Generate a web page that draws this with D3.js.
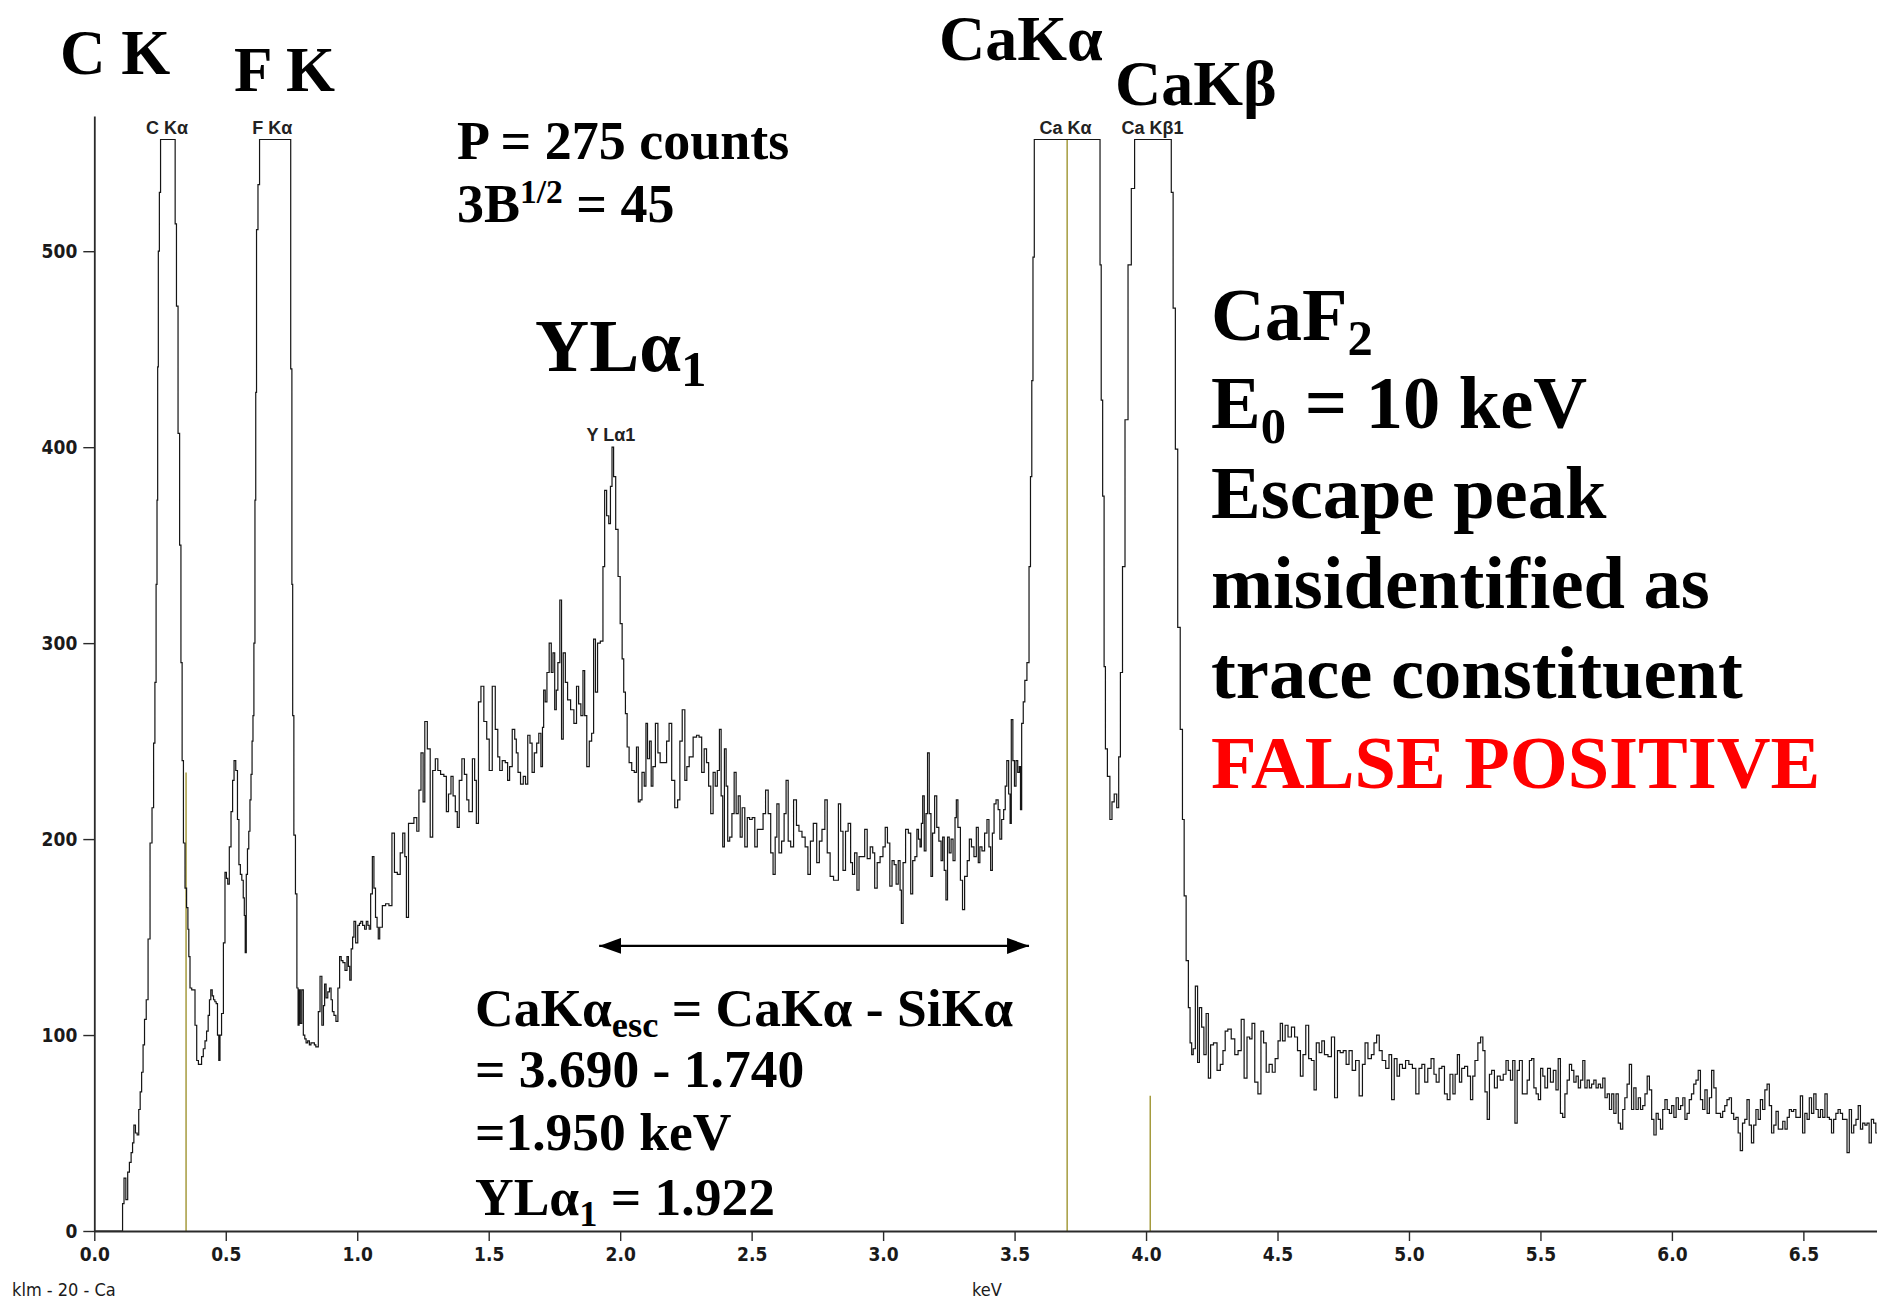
<!DOCTYPE html>
<html>
<head>
<meta charset="utf-8">
<script src="https://cdn.jsdelivr.net/npm/d3@7"></script>
<style>
  html, body { margin: 0; padding: 0; background: #ffffff; }
  svg { display: block; }
</style>
</head>
<body>
<svg id="chart" width="1877" height="1301"></svg>
<script>
// ---- Axis ticks ----
const xTickValues = [0, 0.5, 1, 1.5, 2, 2.5, 3, 3.5, 4, 4.5, 5, 5.5, 6, 6.5];
const yTickValues = [0, 100, 200, 300, 400, 500];

// ---- Peak identification labels (name, energy in keV) ----
const peakLabelNames = ["C Kα", "F Kα", "Y Lα1", "Ca Kα", "Ca Kβ1"];
const peakLabelKeV   = [0.277, 0.677, 1.965, 3.694, 4.025];

// ---- Line markers (KLM) : energy and relative height in counts ----
const markerKeV    = [0.349, 3.700, 4.016];
const markerCounts = [234, 557, 69];

// ---- Display full scale (peaks above it are clipped) ----
const fullScale = 557;

// ---- Spectrum: [keV, counts] ----
const spectrumLow = [
  [0.000,0],[0.105,0],[0.110,14],[0.116,27],[0.124,16],[0.130,30],[0.137,35],[0.143,40],[0.148,45],[0.153,54],
  [0.160,50],[0.166,49],[0.172,62],[0.177,71],[0.183,81],[0.188,95],[0.194,108],[0.201,118],[0.208,149],[0.216,198],
  [0.223,216],[0.228,249],[0.233,280],[0.237,330],[0.240,373],[0.242,441],[0.245,500],[0.250,530],[0.254,557],[0.305,557],
  [0.310,514],[0.315,472],[0.322,407],[0.327,350],[0.332,290],[0.336,240],[0.342,198],[0.348,175],[0.354,165],[0.358,154],
  [0.361,140],[0.367,124],[0.374,123],[0.380,123],[0.386,105],[0.393,87],[0.399,85],[0.405,85],[0.411,89],[0.418,93],
  [0.424,97],[0.430,102],[0.436,110],[0.440,118],[0.446,123],[0.451,120],[0.456,118],[0.461,117],[0.466,116],[0.471,100],
  [0.476,87],[0.480,100],[0.488,111],[0.494,147],[0.500,183],[0.505,180],[0.510,177],[0.517,196],[0.523,214],[0.529,230],
  [0.534,240],[0.542,235],[0.547,210],[0.553,187],[0.558,182],[0.564,179],[0.569,170],[0.572,161],[0.576,142],[0.580,182],
  [0.585,195],[0.590,204],[0.594,220],[0.598,233],[0.602,250],[0.605,263],[0.609,300],[0.613,373],[0.615,428],[0.619,511],
  [0.626,534],[0.631,557],[0.744,557],[0.750,440],[0.753,330],[0.756,263],[0.762,202],[0.768,172],[0.773,124],[0.777,105],
  [0.781,123],[0.786,106],[0.792,123],[0.798,100],[0.803,98],[0.808,96],[0.815,97],[0.821,95],[0.827,96],[0.834,96],
  [0.840,95],[0.845,94],[0.849,94],[0.855,112],[0.862,130],[0.869,105],[0.874,115],[0.878,126],[0.885,119],[0.891,122],
  [0.898,124],[0.903,118],[0.908,112],[0.915,110],[0.923,107],[0.930,124],[0.936,140],[0.942,138],[0.949,137],[0.958,133],
  [0.964,140],[0.969,135],[0.974,128],[0.980,144],[0.985,150],[0.990,158],[0.998,147],[1.006,156],[1.011,157],[1.016,158],
  [1.025,156],[1.031,154],[1.038,158],[1.043,156],[1.048,154],[1.054,172],[1.061,191],[1.066,175],[1.073,160],[1.078,155],
  [1.082,149]
];

const spectrumMid = [
  [1.089,155],[1.102,166],[1.114,167],[1.127,166],[1.137,203],[1.146,183],[1.159,182],[1.168,193],[1.178,203],[1.184,191],
  [1.190,160],[1.200,208],[1.209,208],[1.222,211],[1.231,204],[1.238,225],[1.247,244],[1.254,219],[1.260,260],[1.273,246],
  [1.282,201],[1.292,235],[1.302,241],[1.311,235],[1.323,233],[1.336,232],[1.342,214],[1.352,223],[1.361,232],[1.368,222],
  [1.378,214],[1.383,206],[1.393,230],[1.403,241],[1.412,233],[1.421,220],[1.428,214],[1.433,214],[1.443,241],[1.450,230],
  [1.456,208],[1.466,270],[1.475,278],[1.488,260],[1.497,251],[1.507,235],[1.520,278],[1.530,256],[1.539,242],[1.545,235],
  [1.558,240],[1.568,239],[1.576,230],[1.583,237],[1.596,256],[1.602,251],[1.608,244],[1.615,234],[1.627,228],[1.636,232],
  [1.644,228],[1.653,253],[1.661,249],[1.669,234],[1.678,244],[1.687,249],[1.694,254],[1.703,237],[1.706,257],[1.712,276],
  [1.718,270],[1.725,285],[1.735,300],[1.741,285],[1.748,295],[1.754,266],[1.760,276],[1.766,290],[1.775,322],[1.779,251],
  [1.788,295],[1.795,280],[1.805,271],[1.818,266],[1.830,259],[1.838,278],[1.846,269],[1.855,263],[1.862,286],[1.868,263],
  [1.878,237],[1.887,250],[1.896,254],[1.902,302],[1.910,275],[1.918,300],[1.931,301],[1.938,339],[1.944,378],[1.953,365],
  [1.960,361],[1.966,380],[1.972,400],[1.978,385],[1.988,358],[1.996,334]
];

const spectrumBackground = [
  [2.004,310],[2.011,292],[2.016,275],[2.024,264],[2.029,247],[2.039,239],[2.049,235],[2.058,234],[2.066,247],[2.072,219],
  [2.079,220],[2.087,234],[2.096,227],[2.100,259],[2.108,241],[2.115,250],[2.121,227],[2.128,237],[2.140,259],[2.147,244],
  [2.157,239],[2.172,239],[2.181,250],[2.191,259],[2.201,230],[2.214,216],[2.223,220],[2.231,250],[2.241,266],[2.251,230],
  [2.256,237],[2.269,242],[2.286,252],[2.295,253],[2.305,252],[2.315,234],[2.324,246],[2.333,239],[2.340,227],[2.349,213],
  [2.358,234],[2.365,227],[2.374,235],[2.381,256],[2.387,222],[2.393,196],[2.400,246],[2.406,227],[2.412,199],[2.421,201],
  [2.429,213],[2.438,234],[2.444,213],[2.454,222],[2.459,201],[2.469,216],[2.479,196],[2.488,211],[2.497,210],[2.507,211],
  [2.517,196],[2.526,205],[2.539,205],[2.548,213],[2.558,225],[2.568,213],[2.577,193],[2.586,182],[2.593,201],[2.599,218],
  [2.609,193],[2.619,199],[2.628,213],[2.634,230],[2.644,199],[2.653,196],[2.666,220],[2.675,207],[2.685,204],[2.698,201],
  [2.709,196],[2.719,182],[2.728,199],[2.741,208],[2.754,188],[2.761,199],[2.774,205],[2.783,220],[2.792,193],[2.805,181],
  [2.818,179],[2.826,179],[2.834,218],[2.843,204],[2.852,184],[2.862,204],[2.872,208],[2.881,188],[2.886,182],[2.897,193],
  [2.904,174],[2.913,191],[2.925,191],[2.935,205],[2.944,190],[2.958,196],[2.963,193],[2.973,175],[2.982,188],[2.995,191],
  [3.004,196],[3.012,206],[3.021,198],[3.030,176],[3.038,189],[3.046,187],[3.053,177],[3.062,189],[3.067,174],[3.072,157],
  [3.080,188],[3.091,205],[3.101,203],[3.109,172],[3.116,189],[3.126,191],[3.131,205],[3.138,200],[3.143,196],[3.148,208],
  [3.153,222],[3.160,194],[3.166,213],[3.172,244],[3.179,213],[3.185,181],[3.191,203],[3.201,222],[3.207,206],[3.217,199],
  [3.224,189],[3.229,201],[3.236,184],[3.242,169],[3.248,201],[3.255,193],[3.262,200],[3.270,189],[3.277,211],[3.280,220],
  [3.289,206],[3.299,179],[3.305,164],[3.315,181],[3.325,189],[3.331,200],[3.341,196],[3.350,191],[3.359,206],[3.365,188],
  [3.371,196],[3.381,194],[3.391,203],[3.399,210],[3.406,196],[3.412,184],[3.419,203],[3.425,218],[3.434,220],[3.441,215],
  [3.447,200],[3.455,210],[3.462,215],[3.467,227],[3.474,240],[3.481,223],[3.485,208],[3.490,261],[3.497,240],[3.502,227],
  [3.509,240],[3.515,234],[3.521,237],[3.524,215],[3.530,259]
];

const spectrumCa = [
  [3.536,270],[3.542,281],[3.552,290],[3.558,339],[3.563,385],[3.568,434],[3.572,497],[3.578,557],[3.823,557],[3.827,493],
  [3.832,424],[3.838,375],[3.843,288],[3.848,246],[3.858,232],[3.867,210],[3.874,219],[3.884,223],[3.893,216],[3.899,242],
  [3.906,285],[3.915,339],[3.925,414],[3.938,493],[3.950,532],[3.963,557],[4.093,557],[4.099,530],[4.107,471],[4.116,399],
  [4.125,308],[4.135,256],[4.142,210],[4.148,171],[4.157,138],[4.165,114],[4.170,96],[4.177,90],[4.182,93],[4.193,125],
  [4.199,86]
];

const spectrumTail = [
  [4.207,114],[4.216,104],[4.224,90],[4.233,111],[4.241,78],[4.250,95],[4.263,96],[4.277,82],[4.288,85],[4.297,92],
  [4.305,102],[4.317,103],[4.331,98],[4.344,90],[4.356,92],[4.368,108],[4.378,78],[4.390,99],[4.398,98],[4.408,106],
  [4.419,76],[4.432,70],[4.442,102],[4.452,96],[4.462,81],[4.474,85],[4.486,81],[4.496,88],[4.508,97],[4.513,106],
  [4.525,97],[4.533,105],[4.547,99],[4.559,104],[4.571,99],[4.581,92],[4.593,79],[4.601,90],[4.614,105],[4.623,88],
  [4.635,87],[4.643,72],[4.652,96],[4.665,91],[4.672,97],[4.685,90],[4.699,89],[4.711,99],[4.723,68],[4.733,92],
  [4.744,91],[4.756,92],[4.766,85],[4.778,92],[4.790,82],[4.804,87],[4.817,69],[4.829,85],[4.837,96],[4.851,88],
  [4.863,90],[4.871,96],[4.883,100],[4.891,92],[4.905,87],[4.918,83],[4.930,90],[4.938,67],[4.950,88],[4.959,79],
  [4.969,85],[4.981,83],[4.993,87],[5.006,85],[5.020,83],[5.032,70],[5.044,83],[5.054,85],[5.066,76],[5.077,83],
  [5.091,88],[5.099,80],[5.108,76],[5.121,83],[5.129,84],[5.141,70],[5.150,67],[5.162,80],[5.172,70],[5.179,80],
  [5.189,90],[5.195,76],[5.206,83],[5.217,84],[5.229,79],[5.239,67],[5.246,79],[5.256,87],[5.268,96],[5.277,99],
  [5.285,92],[5.293,71],[5.302,57],[5.310,80],[5.319,82],[5.331,73],[5.341,79],[5.353,77],[5.364,80],[5.374,87],
  [5.381,82],[5.391,77],[5.398,87],[5.408,55],[5.415,82],[5.425,87],[5.437,70],[5.445,70],[5.454,77],[5.462,87],
  [5.471,88],[5.479,73],[5.488,70],[5.496,67],[5.505,83],[5.513,79],[5.521,73],[5.533,83],[5.543,76],[5.555,82],
  [5.563,72],[5.572,88],[5.580,60],[5.589,58],[5.597,70],[5.606,77],[5.614,85],[5.623,82],[5.631,76],[5.640,79],
  [5.648,73],[5.657,77],[5.665,87],[5.673,73],[5.682,77],[5.690,73],[5.699,75],[5.707,77],[5.716,73],[5.724,75],
  [5.733,73],[5.741,78],[5.750,68],[5.758,70],[5.767,62],[5.775,70],[5.783,60],[5.792,70],[5.800,55],[5.809,52],
  [5.817,62],[5.825,68],[5.834,75],[5.842,85],[5.851,62],[5.859,73],[5.868,62],[5.876,68],[5.885,62],[5.893,64],
  [5.902,70],[5.910,79],[5.919,72],[5.927,57],[5.936,49],[5.944,60],[5.952,57],[5.961,52],[5.969,62],[5.978,67],
  [5.986,62],[5.995,60],[6.003,64],[6.012,58],[6.020,68],[6.029,62],[6.037,64],[6.046,68],[6.053,57],[6.062,60],
  [6.070,67],[6.079,70],[6.087,75],[6.096,77],[6.104,82],[6.113,67],[6.121,62],[6.130,72],[6.138,60],[6.147,68],
  [6.155,82],[6.164,73],[6.172,60],[6.181,60],[6.189,58],[6.197,61],[6.205,64],[6.214,67],[6.222,68],[6.231,60],
  [6.239,57],[6.248,58],[6.256,50],[6.264,41],[6.273,55],[6.281,57],[6.290,67],[6.298,54],[6.307,45],[6.315,54],
  [6.324,62],[6.332,57],[6.341,67],[6.349,62],[6.358,72],[6.366,75],[6.375,64],[6.383,50],[6.392,54],[6.400,61],
  [6.409,52],[6.417,52],[6.426,56],[6.434,52],[6.443,58],[6.450,62],[6.459,61],[6.467,62],[6.476,58],[6.484,58],
  [6.493,69],[6.501,50],[6.510,60],[6.518,57],[6.527,68],[6.535,60],[6.544,70],[6.552,62],[6.561,58],[6.569,62],
  [6.578,58],[6.586,70],[6.595,58],[6.603,57],[6.611,50],[6.619,57],[6.628,60],[6.636,62],[6.645,60],[6.653,57],
  [6.662,57],[6.670,40],[6.679,62],[6.687,50],[6.696,54],[6.704,57],[6.713,64],[6.721,52],[6.730,55],[6.738,54],
  [6.746,55],[6.754,45],[6.763,57],[6.771,55],[6.780,50]
];

// ---- Escape-peak shift arrow (keV span, drawn at a count level) ----
const arrowKeV = [1.92, 3.555];
const arrowCount = 145.5;

// ===================== drawing =====================
const spectrum = [].concat(spectrumLow, spectrumMid, spectrumBackground, spectrumCa, spectrumTail);

const svg = d3.select("#chart");
const plot = { left: 94.3, right: 1877, top: 116, bottom: 1231 };

const x = d3.scaleLinear().domain([0, 6.78]).range([plot.left, plot.right]);
const y = d3.scaleLinear().domain([0, 569]).range([plot.bottom, plot.top]);

const serif = "'Liberation Serif','Times New Roman',serif";
const narrow = "'Liberation Sans Narrow','Arial Narrow','DejaVu Sans Condensed','Liberation Sans',sans-serif";
const sans = "'Liberation Sans',Arial,sans-serif";

// displayed (clipped) count at an energy: value of the nearest channel
const bisect = d3.bisector(d => d[0]).center;
function shownAt(e) {
  return Math.min(spectrum[bisect(spectrum, e)][1], fullScale);
}

// line markers
svg.append("g").selectAll("line").data(markerKeV).join("line")
  .attr("x1", d => x(d)).attr("x2", d => x(d))
  .attr("y1", y(0)).attr("y2", (d, i) => y(markerCounts[i]))
  .attr("stroke", "#a59b3e").attr("stroke-width", 1.5);

// spectrum trace
const line = d3.line()
  .x(d => x(d[0]))
  .y(d => y(Math.min(d[1], fullScale)))
  .curve(d3.curveStep);

svg.append("path")
  .datum(spectrum)
  .attr("d", line)
  .attr("fill", "none")
  .attr("stroke", "#151515")
  .attr("stroke-width", 1.2);

// axes
const xAxis = d3.axisBottom(x).tickValues(xTickValues).tickFormat(d3.format(".1f"))
  .tickSize(10).tickSizeOuter(0).tickPadding(7);
const gx = svg.append("g").attr("transform", `translate(0,${plot.bottom})`).call(xAxis);
gx.select(".domain").attr("stroke", "#2a2a2a").attr("stroke-width", 2.2);
gx.selectAll(".tick line").attr("stroke", "#2a2a2a").attr("stroke-width", 1.4);
gx.selectAll(".tick text").attr("font-family", narrow).attr("font-weight", "bold")
  .attr("font-size", 19).attr("fill", "#1a1a1a");

const yAxis = d3.axisLeft(y).tickValues(yTickValues).tickSize(11).tickSizeOuter(0).tickPadding(6);
const gy = svg.append("g").attr("transform", `translate(${plot.left},0)`).call(yAxis);
gy.select(".domain").attr("stroke", "#2a2a2a").attr("stroke-width", 1.8);
gy.selectAll(".tick line").attr("stroke", "#2a2a2a").attr("stroke-width", 1.4);
gy.selectAll(".tick text").attr("font-family", narrow).attr("font-weight", "bold")
  .attr("font-size", 19).attr("fill", "#1a1a1a");

svg.append("text").attr("x", 987).attr("y", 1296).attr("text-anchor", "middle")
  .attr("font-family", narrow).attr("font-size", 18).attr("fill", "#1a1a1a").text("keV");
svg.append("text").attr("x", 12).attr("y", 1296)
  .attr("font-family", narrow).attr("font-size", 18).attr("fill", "#1a1a1a").text("klm - 20 - Ca");

// peak identification labels, placed just above each peak's displayed top
peakLabelNames.forEach((name, i) => {
  const e = peakLabelKeV[i];
  const top = d3.max(d3.range(-0.03, 0.0301, 0.005), dk => shownAt(e + dk));
  svg.append("text")
    .attr("x", x(e)).attr("y", y(top) - 6)
    .attr("text-anchor", "middle")
    .attr("font-family", sans).attr("font-weight", "bold")
    .attr("font-size", 18).attr("fill", "#222")
    .text(name);
});

// rich text helper: parts = [{t, sub, sup}]
function richText(px, py, size, parts, color) {
  const t = svg.append("text").attr("x", px).attr("y", py)
    .attr("font-family", serif).attr("font-weight", "bold")
    .attr("font-size", size).attr("fill", color || "#000");
  let shift = 0;
  parts.forEach(p => {
    let target = 0, fs = size;
    if (p.sub) { target = size * 0.2; fs = size * 0.68; }
    if (p.sup) { target = -size * 0.36; fs = size * 0.62; }
    t.append("tspan").attr("dy", target - shift).attr("font-size", fs).text(p.t);
    shift = target;
  });
  return t;
}

// element headings
richText(60, 74, 63, [{ t: "C K" }]);
richText(234, 91, 63, [{ t: "F K" }]);
richText(939, 60, 64, [{ t: "CaKα" }]);
richText(1115, 105, 64, [{ t: "CaKβ" }]);

// detection-limit note
richText(457, 159, 54, [{ t: "P = 275 counts" }]);
richText(457, 222, 54, [{ t: "3B" }, { t: "1/2", sup: true }, { t: " = 45" }]);

// trace peak heading
richText(535, 371, 75, [{ t: "YLα" }, { t: "1", sub: true }]);

// specimen / conclusion block
const bx = 1211, bs = 74.5;
richText(bx, 340, bs, [{ t: "CaF" }, { t: "2", sub: true }]);
richText(bx, 428, bs, [{ t: "E" }, { t: "0", sub: true }, { t: " = 10 keV" }]);
richText(bx, 518, bs, [{ t: "Escape peak" }]);
richText(bx, 608, bs, [{ t: "misidentified as" }]);
richText(bx, 698, bs, [{ t: "trace constituent" }]);
richText(bx, 788, bs, [{ t: "FALSE POSITIVE" }], "#ff0000");

// escape-peak arithmetic
const ex = 475, es = 53.5;
richText(ex, 1026, es, [{ t: "CaKα" }, { t: "esc", sub: true }, { t: " = CaKα - SiKα" }]);
richText(ex, 1087, es, [{ t: "= 3.690 - 1.740" }]);
richText(ex, 1150, es, [{ t: "=1.950 keV" }]);
richText(ex, 1215, es, [{ t: "YLα" }, { t: "1", sub: true }, { t: " = 1.922" }]);

// double-headed arrow showing the escape shift
const defs = svg.append("defs");
["start", "end"].forEach(k => {
  defs.append("marker")
    .attr("id", "arrow-" + k)
    .attr("viewBox", "0 0 22 16")
    .attr("refX", k === "end" ? 22 : 0).attr("refY", 8)
    .attr("markerWidth", 22).attr("markerHeight", 16)
    .attr("markerUnits", "userSpaceOnUse")
    .attr("orient", "auto")
    .append("path")
    .attr("d", k === "end" ? "M0,0 L22,8 L0,16 Z" : "M22,0 L0,8 L22,16 Z")
    .attr("fill", "#000");
});
svg.append("line")
  .attr("x1", x(arrowKeV[0])).attr("x2", x(arrowKeV[1]))
  .attr("y1", y(arrowCount)).attr("y2", y(arrowCount))
  .attr("stroke", "#000").attr("stroke-width", 2.4)
  .attr("marker-start", "url(#arrow-start)")
  .attr("marker-end", "url(#arrow-end)");
</script>
</body>
</html>
